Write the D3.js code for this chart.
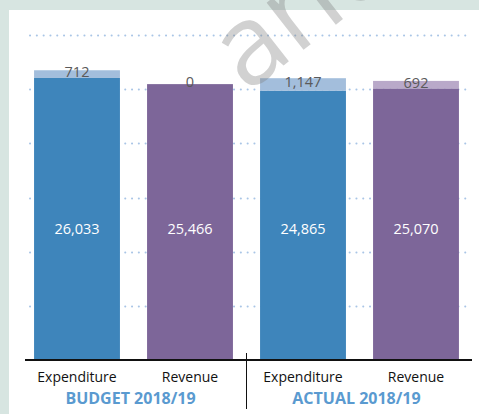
<!DOCTYPE html>
<html>
<head>
<meta charset="utf-8">
<script src="https://cdn.jsdelivr.net/npm/d3@7"></script>
<style>
  body { margin: 0; background: #d7e5e1; }
  svg { display: block; font-family: "Open Sans", sans-serif; }
</style>
</head>
<body>
<svg id="chart"></svg>
<script>
const categories = ["Expenditure", "Revenue", "Expenditure", "Revenue"];
const groups = ["BUDGET 2018/19", "ACTUAL 2018/19"];
const mainValues = [26033, 25466, 24865, 25070];
const extraValues = [712, 0, 1147, 692];
const gridTicks = [5000, 10000, 15000, 20000, 25000, 30000];

const width = 479, height = 414;
const mainColors = ["#3e85bb", "#7d6699", "#3e85bb", "#7d6699"];
const extraColors = ["#a3bedc", "#b9a9c9", "#a3bedc", "#b9a9c9"];

const svg = d3.select("#chart").attr("width", width).attr("height", height);

// white panel
svg.append("rect")
  .attr("x", 9).attr("y", 10)
  .attr("width", width - 9).attr("height", height - 10)
  .attr("fill", "#fff");

const x = d3.scaleBand()
  .domain(d3.range(categories.length))
  .range([20.5, 472.5])
  .paddingInner(0.24)
  .paddingOuter(0.12);

const y = d3.scaleLinear().domain([0, 30000]).range([360, 35]);

// dotted grid
svg.append("g")
  .selectAll("line")
  .data(gridTicks)
  .join("line")
  .attr("x1", 30).attr("x2", 468)
  .attr("y1", d => Math.round(y(d)) + 0.5)
  .attr("y2", d => Math.round(y(d)) + 0.5)
  .attr("stroke", "#a9c5e6")
  .attr("stroke-width", 2)
  .attr("stroke-linecap", "round")
  .attr("stroke-dasharray", "0.1 6.7");

// main bars
svg.append("g")
  .selectAll("rect")
  .data(mainValues)
  .join("rect")
  .attr("x", (d, i) => x(i))
  .attr("width", x.bandwidth())
  .attr("y", d => y(d))
  .attr("height", d => y(0) - y(d))
  .attr("fill", (d, i) => mainColors[i]);

// stacked extra part
svg.append("g")
  .selectAll("rect")
  .data(extraValues)
  .join("rect")
  .attr("x", (d, i) => x(i))
  .attr("width", x.bandwidth())
  .attr("y", (d, i) => y(mainValues[i] + d))
  .attr("height", (d, i) => y(mainValues[i]) - y(mainValues[i] + d))
  .attr("fill", (d, i) => extraColors[i]);

// watermark
svg.append("text")
  .attr("transform", "translate(247,94) rotate(-38)")
  .attr("font-size", 112)
  .attr("fill", "#808080")
  .attr("fill-opacity", 0.36)
  .text("and");

// values inside bars
svg.append("g")
  .selectAll("text")
  .data(mainValues)
  .join("text")
  .attr("x", (d, i) => x(i) + x.bandwidth() / 2)
  .attr("y", 229)
  .attr("dy", "0.35em")
  .attr("text-anchor", "middle")
  .attr("fill", "#fff")
  .attr("font-size", 14.5)
  .text(d => d3.format(",")(d));

// labels for extra part
svg.append("g")
  .selectAll("text")
  .data(extraValues)
  .join("text")
  .attr("x", (d, i) => x(i) + x.bandwidth() / 2)
  .attr("y", (d, i) => (y(mainValues[i]) + y(mainValues[i] + d)) / 2 + 3)
  .attr("text-anchor", "middle")
  .attr("fill", "#5a5a5a")
  .attr("font-size", 14.5)
  .text(d => d3.format(",")(d));

// baseline
svg.append("line")
  .attr("x1", 25).attr("x2", 472)
  .attr("y1", 360).attr("y2", 360)
  .attr("stroke", "#111")
  .attr("stroke-width", 2);

// divider
svg.append("line")
  .attr("x1", 246.5).attr("x2", 246.5)
  .attr("y1", 353).attr("y2", 409)
  .attr("stroke", "#111")
  .attr("stroke-width", 1);

// category labels
svg.append("g")
  .selectAll("text")
  .data(categories)
  .join("text")
  .attr("x", (d, i) => x(i) + x.bandwidth() / 2)
  .attr("y", 382)
  .attr("text-anchor", "middle")
  .attr("fill", "#111")
  .attr("font-size", 14)
  .text(d => d);

// group labels
svg.append("g")
  .selectAll("text")
  .data(groups)
  .join("text")
  .attr("x", (d, i) => (x(i * 2) + x(i * 2 + 1) + x.bandwidth()) / 2 - 3)
  .attr("y", 404)
  .attr("text-anchor", "middle")
  .attr("fill", "#5a9ad0")
  .attr("font-size", 16)
  .attr("font-weight", "bold")
  .text(d => d);
</script>
</body>
</html>
